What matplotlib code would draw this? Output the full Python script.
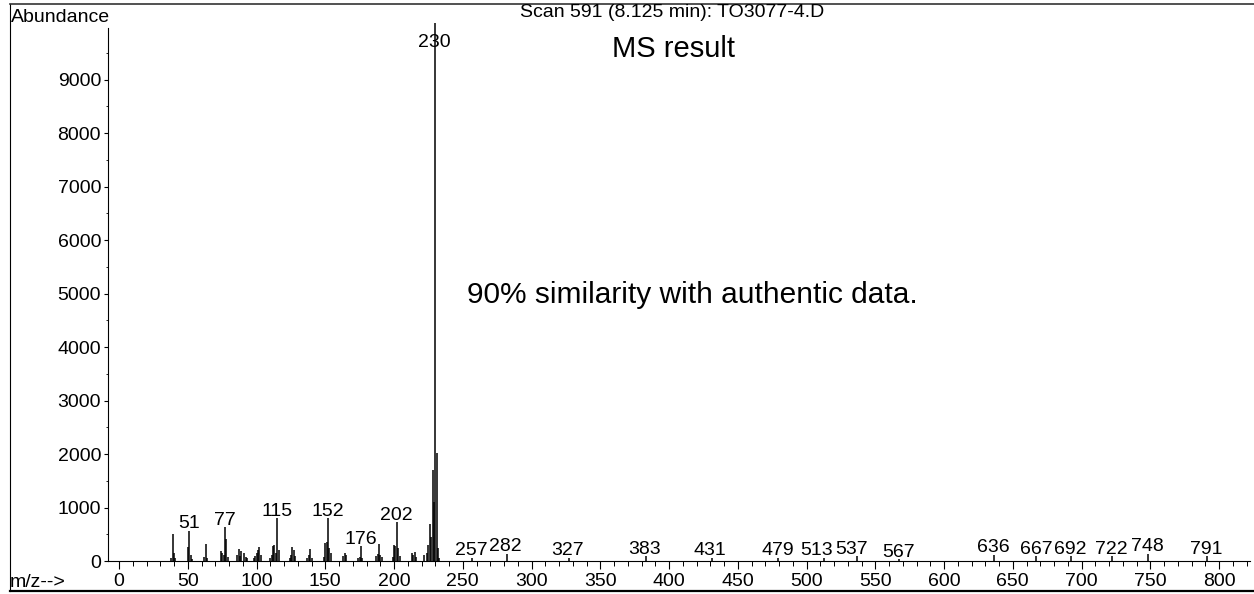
import matplotlib
matplotlib.use("Agg")
import matplotlib.pyplot as plt
from matplotlib.lines import Line2D
from matplotlib.ticker import MultipleLocator

plt.rcParams["font.family"] = ["Liberation Sans", "DejaVu Sans"]

# Mass spectrum: m/z and abundance of each peak
mz = [38, 39, 40, 41, 50, 51, 52, 53, 62, 63, 64, 74, 75, 76, 77, 78, 79,
      86, 87, 88, 89, 91, 92, 93, 98, 99, 100, 101, 102, 103, 110, 111, 112,
      113, 114, 115, 116, 124, 125, 126, 127, 128, 137, 138, 139, 140, 149,
      150, 151, 152, 153, 154, 163, 164, 165, 174, 175, 176, 177, 187, 188,
      189, 190, 191, 199, 200, 201, 202, 203, 204, 213, 214, 215, 216, 222,
      224, 225, 226, 227, 228, 229, 230, 231, 232, 233,
      257, 282, 327, 383, 431, 479, 513, 537, 567, 636, 667, 692, 722, 748, 791]
abundance = [60, 500, 150, 50, 270, 570, 120, 40, 80, 310, 60, 190, 150, 120,
             640, 420, 80, 120, 220, 100, 180, 150, 80, 60, 60, 90, 150, 200,
             260, 120, 60, 120, 280, 300, 150, 800, 200, 60, 120, 270, 200, 90,
             60, 120, 220, 60, 80, 330, 360, 800, 250, 150, 100, 150, 120, 60,
             80, 280, 60, 100, 130, 310, 110, 80, 80, 300, 280, 735, 250, 100,
             150, 120, 175, 80, 110, 150, 300, 700, 450, 1700, 1100, 10050,
             2020, 240, 60,
             65, 140, 65, 85, 65, 65, 65, 100, 45, 120, 100, 100, 100, 140, 85]

# Peaks that carry an m/z label, with a horizontal nudge (points) for crowded ones
labelled = [51, 77, 115, 152, 176, 202, 257, 282, 327, 383, 431, 479, 513,
            537, 567, 636, 667, 692, 722, 748, 791]
label_nudge = {257: -1, 282: -1, 327: -1, 383: -1, 431: -1, 513: -5.5, 537: -4.5}
base_peak = 230

y_ticks = [0, 1000, 2000, 3000, 4000, 5000, 6000, 7000, 8000, 9000]
x_ticks = [0, 50, 100, 150, 200, 250, 300, 350, 400, 450, 500, 550, 600, 650,
           700, 750, 800]

W, H = 1254, 594


def fy(py):
    """Figure fraction for a pixel row measured from the top."""
    return 1 - py / H


fig = plt.figure(figsize=(W / 100, H / 100), dpi=100)
fig.patch.set_facecolor("white")

ax = fig.add_axes([108 / W, 33 / H, 1142 / W, 533 / H])
ax.set_xlim(-8, 822.5)
ax.set_ylim(0, 9963)

ax.vlines(mz, 0, abundance, color="black", linewidth=1.1, clip_on=False)

for spine in ("top", "right"):
    ax.spines[spine].set_visible(False)
for spine in ("left", "bottom"):
    ax.spines[spine].set_linewidth(0.8)

ax.set_yticks(y_ticks)
ax.set_xticks(x_ticks)
ax.xaxis.set_minor_locator(MultipleLocator(10))
ax.yaxis.set_minor_locator(MultipleLocator(500))
ax.tick_params(axis="both", which="major", labelsize=14, direction="out",
               width=0.8, colors="black")
ax.tick_params(axis="x", which="major", length=6, pad=2.5)
ax.tick_params(axis="x", which="minor", length=3.5, width=0.7)
ax.tick_params(axis="y", which="major", length=3, pad=2)
ax.tick_params(axis="y", which="minor", length=1.5, width=0.6)

height = dict(zip(mz, abundance))
for m in labelled:
    ax.annotate(str(m), (m, height[m]), xytext=(label_nudge.get(m, 0), 1.5),
                textcoords="offset points", ha="center", va="baseline",
                fontsize=14)
ax.annotate(str(base_peak), xy=(base_peak, 1.0),
            xycoords=("data", "axes fraction"), xytext=(-0.5, -13.7),
            textcoords="offset points", ha="center", va="baseline", fontsize=14)

fig.text(467 / W, fy(303), "90% similarity with authentic data.",
         ha="left", va="baseline", fontsize=21.5)
fig.text(672 / W, fy(17), "Scan 591 (8.125 min): TO3077-4.D",
         ha="center", va="baseline", fontsize=14)
fig.text(673 / W, fy(57), "MS result", ha="center", va="baseline",
         fontsize=21)
fig.text(11 / W, fy(22), "Abundance", ha="left", va="baseline", fontsize=14)
fig.text(10 / W, fy(587), "m/z-->", ha="left", va="baseline", fontsize=14)

# Outer frame
fig.add_artist(Line2D([10 / W, 10 / W], [fy(4), fy(591)],
                      transform=fig.transFigure, color="black", linewidth=0.8))
fig.add_artist(Line2D([10 / W, 1], [fy(4), fy(4)],
                      transform=fig.transFigure, color="#333333", linewidth=1.2))
fig.add_artist(Line2D([10 / W, 1], [fy(591), fy(591)],
                      transform=fig.transFigure, color="black", linewidth=1.6))

fig.savefig("out.png", dpi=100)
